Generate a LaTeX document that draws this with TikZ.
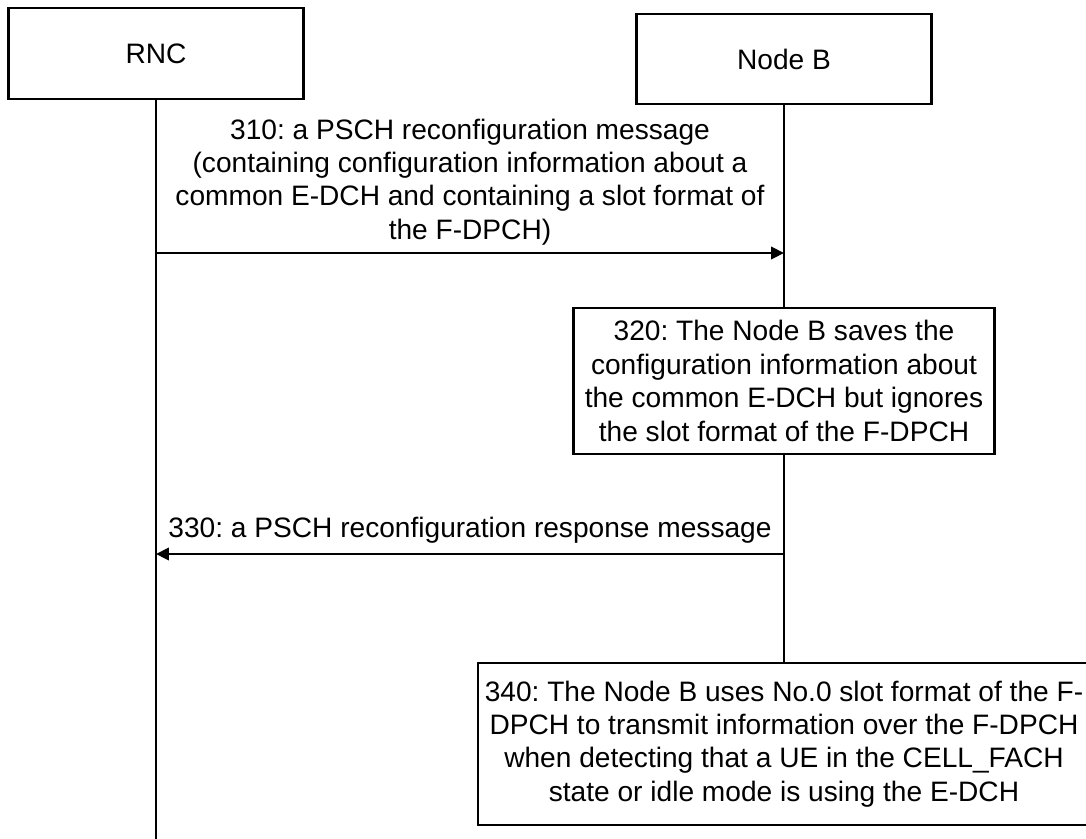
\documentclass[tikz,border=0pt]{standalone}
\usepackage{fontspec}
\setmainfont{Liberation Sans}
\usetikzlibrary{arrows.meta}
\frenchspacing

\begin{document}
\begin{tikzpicture}[x=0.02cm, y=-0.02cm,
    every node/.style={font=\fontsize{16}{19}\selectfont},
    entity/.style={draw, line width=1.4pt, minimum width=5.9cm, inner sep=0pt},
    stepbox/.style={draw, line width=1.4pt, align=center, inner sep=0pt},
    lifeline/.style={line width=1.3pt},
    msg/.style={line width=1.3pt, -{Triangle[length=0.26cm, width=0.25cm]}}]
    \useasboundingbox (0,0) rectangle (1086,839);
    % entities:
    \node[entity, minimum height=1.82cm] (rnc) at (156,53.5) {RNC};
    \node[entity, minimum height=1.8cm] (nodeb) at (784,59) {Node B};
    % steps:
    \node[stepbox, minimum width=8.42cm, minimum height=2.92cm] (s320) at (784,381)
        {320: The Node B saves the\\configuration information about\\the common E-DCH but ignores\\the slot format of the F-DPCH};
    \node[stepbox, minimum width=12.24cm, minimum height=3.24cm] (s340) at (784,744)
        {340: The Node B uses No.0 slot format of the F-\\DPCH to transmit information over the F-DPCH\\when detecting that a UE in the CELL\_FACH\\state or idle mode is using the E-DCH};
    % lifelines:
    \coordinate (rncend) at (156,839);
    \draw[lifeline] (rnc.south) -- (rncend);
    \draw[lifeline] (nodeb.south) -- (s320.north);
    \draw[lifeline] (s320.south) -- (s340.north);
    % messages:
    \coordinate (r310) at (156,253);
    \coordinate (b310) at (784,253);
    \draw[msg] (r310) -- (b310);
    \node[align=center] (m310) at (470,182)
        {310: a PSCH reconfiguration message\\(containing configuration information about a\\common E-DCH and containing a slot format of\\the F-DPCH)};
    \coordinate (b330) at (784,554);
    \coordinate (r330) at (156,554);
    \draw[msg] (b330) -- (r330);
    \node (m330) at (470,530) {330: a PSCH reconfiguration response message};
\end{tikzpicture}
\end{document}
